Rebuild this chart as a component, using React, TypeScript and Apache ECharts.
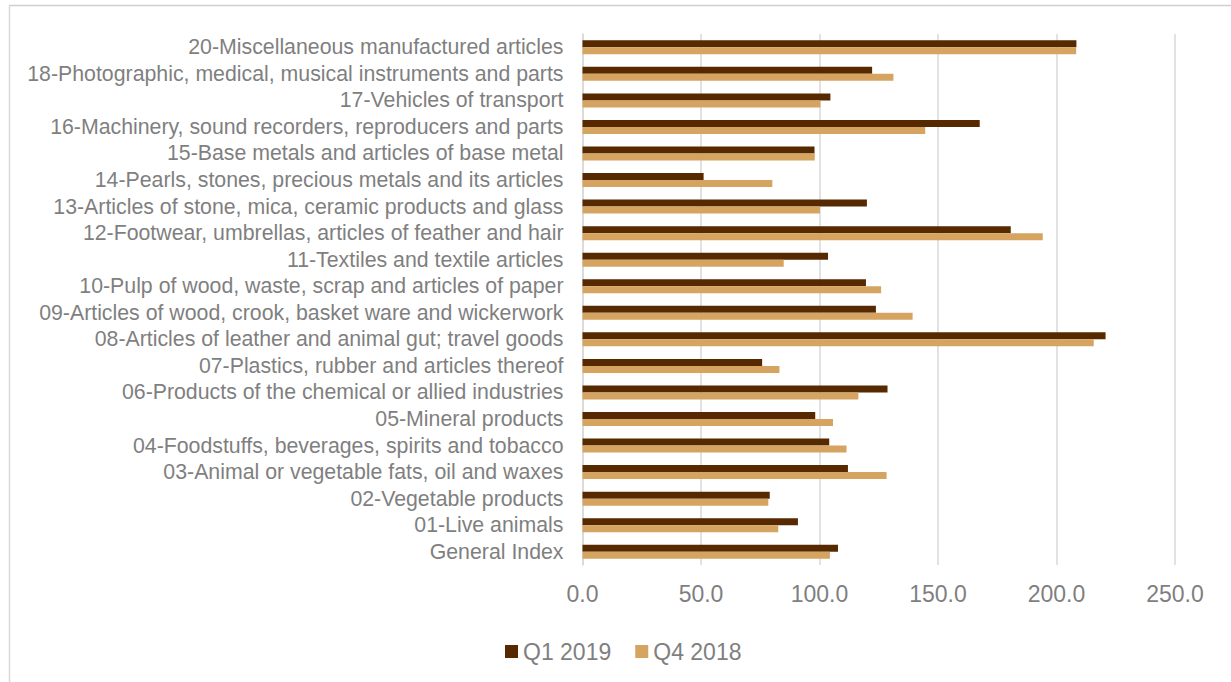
import React, { useEffect, useRef } from "react";
import * as echarts from "echarts";

const categories = [
  "20-Miscellaneous manufactured articles",
  "18-Photographic, medical, musical instruments and parts",
  "17-Vehicles of transport",
  "16-Machinery, sound recorders, reproducers and parts",
  "15-Base metals and articles of base metal",
  "14-Pearls, stones, precious metals and its articles",
  "13-Articles of stone, mica, ceramic products and glass",
  "12-Footwear, umbrellas, articles of feather and hair",
  "11-Textiles and textile articles",
  "10-Pulp of wood, waste, scrap and articles of paper",
  "09-Articles of wood, crook, basket ware and wickerwork",
  "08-Articles of leather and animal gut; travel goods",
  "07-Plastics, rubber and articles thereof",
  "06-Products of the chemical or allied industries",
  "05-Mineral products",
  "04-Foodstuffs, beverages, spirits and tobacco",
  "03-Animal or vegetable fats, oil and waxes",
  "02-Vegetable products",
  "01-Live animals",
  "General Index",
];

const q1_2019 = [
  208.4, 122.2, 104.6, 167.6, 97.9, 51.1, 120.0, 180.7, 103.6, 119.6, 123.8,
  220.7, 75.8, 128.7, 98.2, 104.1, 112.0, 79.0, 90.9, 107.8,
];
const q4_2018 = [
  208.3, 131.2, 100.4, 144.6, 98.0, 80.1, 100.2, 194.2, 84.9, 126.0, 139.3,
  215.7, 83.1, 116.4, 105.7, 111.4, 128.3, 78.4, 82.6, 104.4,
];

const xTicks = { min: 0, max: 250, interval: 50 };

export default function App() {
  const ref = useRef<HTMLDivElement>(null);
  useEffect(() => {
    if (!ref.current) return;
    const chart = echarts.init(ref.current, null, { renderer: "svg" });
    const font = "'Liberation Sans', Arial, sans-serif";
    chart.setOption({
      animation: false,
      backgroundColor: "#ffffff",
      graphic: [
        {
          type: "line",
          shape: { x1: 9, y1: 5.5, x2: 1231, y2: 5.5 },
          style: { stroke: "#d0d0d0", lineWidth: 1.5 },
          silent: true,
          z: 100,
        },
        {
          type: "line",
          shape: { x1: 9.5, y1: 5, x2: 9.5, y2: 682 },
          style: { stroke: "#d9d9d9", lineWidth: 1.5 },
          silent: true,
          z: 100,
        },
      ],
      grid: { left: 582.5, right: 56, top: 34, bottom: 117, containLabel: false },
      legend: {
        data: ["Q1 2019", "Q4 2018"],
        left: 500,
        top: 635,
        itemWidth: 13,
        itemHeight: 13,
        itemGap: 24,
        icon: "rect",
        textStyle: { color: "#7f7f7f", fontSize: 23, fontFamily: font },
      },
      xAxis: {
        type: "value",
        min: xTicks.min,
        max: xTicks.max,
        interval: xTicks.interval,
        axisLine: { show: false },
        axisTick: { show: false },
        splitLine: { show: true, lineStyle: { color: "#d9d9d9", width: 1.5 } },
        axisLabel: {
          color: "#7f7f7f",
          fontSize: 23,
          fontFamily: font,
          margin: 17,
          formatter: (v: number) => v.toFixed(1),
        },
      },
      yAxis: {
        type: "category",
        data: categories,
        inverse: true,
        axisLine: { show: true, lineStyle: { color: "#d9d9d9", width: 1.5 } },
        axisTick: { show: false },
        axisLabel: {
          interval: 0,
          color: "#7f7f7f",
          fontSize: 21.3,
          fontFamily: font,
          margin: 19,
        },
      },
      series: [
        {
          name: "Q1 2019",
          type: "bar",
          data: q1_2019,
          barWidth: 7,
          barGap: "0%",
          itemStyle: { color: "#572900" },
        },
        {
          name: "Q4 2018",
          type: "bar",
          data: q4_2018,
          barWidth: 7,
          barGap: "0%",
          itemStyle: { color: "#d6a461" },
        },
      ],
    });
    return () => chart.dispose();
  }, []);
  return (
    <div
      ref={ref}
      style={{ position: "absolute", left: 0, top: 0, width: 1231, height: 682 }}
    />
  );
}
